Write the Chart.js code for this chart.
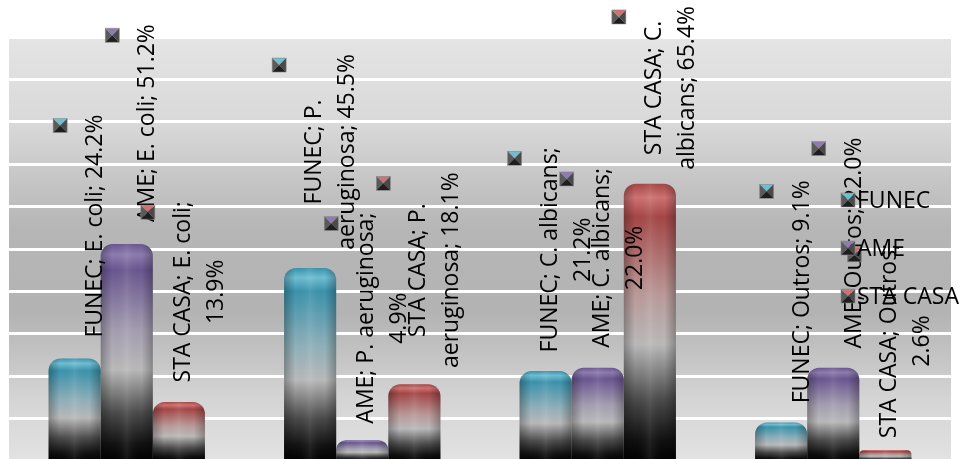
<!DOCTYPE html>
<html>
<head>
<meta charset="utf-8">
<script src="https://cdn.jsdelivr.net/npm/chart.js@4/dist/chart.umd.min.js"></script>
<style>
html, body { margin: 0; padding: 0; background: #fff; overflow: hidden; }
#wrap { width: 965px; height: 462px; }
</style>
</head>
<body>
<div id="wrap"><canvas id="myChart" width="965" height="462"></canvas></div>
<script>
// data
var categories = ['E. coli', 'P. aeruginosa', 'C. albicans', 'Outros'];
var seriesNames = ['FUNEC', 'AME', 'STA CASA'];
var funec = [24.2, 45.5, 21.2, 9.1];
var ame = [51.2, 4.9, 22.0, 22.0];
var staCasa = [13.9, 18.1, 65.4, 2.6];

// where each data label sits (value units on the y axis) and how many words on its first line
var labelMid = [[55.4, 72.9, 49.8, 39.9], [79.7, 33.7, 47.9, 51.4], [39.9, 45.0, 88.0, 28.3]];
var firstLineWords = [[0, 2, 3, 0], [0, 3, 3, 0], [4, 3, 3, 3]];

var palette = [
    { base: '#3b93ad', hi: '#6fbfd3', mid: '#8fb0ba' },
    { base: '#6a5690', hi: '#8e7cb0', mid: '#a59fb1' },
    { base: '#a54646', hi: '#cf7272', mid: '#bb9a9a' }
];
var FONT = '23px "Open Sans", sans-serif';

function barFill(i) {
    return function (c) {
        var chart = c.chart;
        var p = palette[i];
        if (!chart.chartArea || c.type !== 'data') return p.base;
        var ys = chart.scales.y;
        var top = ys.getPixelForValue(c.raw), bot = ys.getPixelForValue(0);
        var g = chart.ctx.createLinearGradient(0, top, 0, bot);
        g.addColorStop(0, p.base);
        g.addColorStop(0.05, p.hi);
        g.addColorStop(0.12, p.base);
        g.addColorStop(0.4, p.mid);
        g.addColorStop(0.58, '#bababa');
        g.addColorStop(0.78, '#4a4a4a');
        g.addColorStop(0.92, '#121212');
        g.addColorStop(1, '#000000');
        return g;
    };
}

function drawKey(ctx, x, y, color) {
    var s = 7;
    ctx.save();
    ctx.beginPath(); ctx.moveTo(x - s, y - s); ctx.lineTo(x + s, y - s); ctx.lineTo(x, y); ctx.closePath();
    ctx.fillStyle = color; ctx.fill();
    ctx.beginPath(); ctx.moveTo(x - s, y - s); ctx.lineTo(x, y); ctx.lineTo(x - s, y + s); ctx.closePath();
    ctx.fillStyle = '#5a5a5a'; ctx.fill();
    ctx.beginPath(); ctx.moveTo(x + s, y - s); ctx.lineTo(x, y); ctx.lineTo(x + s, y + s); ctx.closePath();
    ctx.fillStyle = '#4a4a4a'; ctx.fill();
    ctx.beginPath(); ctx.moveTo(x - s, y + s); ctx.lineTo(x, y); ctx.lineTo(x + s, y + s); ctx.closePath();
    ctx.fillStyle = '#1e1e1e'; ctx.fill();
    ctx.strokeStyle = '#8a8a8a'; ctx.lineWidth = 0.6;
    ctx.strokeRect(x - s, y - s, 2 * s, 2 * s);
    ctx.restore();
}

var plotBackground = {
    id: 'plotBackground',
    beforeDraw: function (chart) {
        var a = chart.chartArea, ctx = chart.ctx;
        var g = ctx.createLinearGradient(0, a.top, 0, a.bottom);
        g.addColorStop(0, '#e4e4e4');
        g.addColorStop(0.2, '#d9d9d9');
        g.addColorStop(0.45, '#b6b6b6');
        g.addColorStop(0.65, '#b3b3b3');
        g.addColorStop(0.85, '#d4d4d4');
        g.addColorStop(1, '#e2e2e2');
        ctx.save();
        ctx.fillStyle = g;
        ctx.fillRect(a.left, a.top, a.right - a.left, a.bottom - a.top);
        ctx.restore();
    }
};

var barLabels = {
    id: 'barLabels',
    afterDatasetsDraw: function (chart) {
        var ctx = chart.ctx, ys = chart.scales.y;
        // side shading on the bars
        chart.data.datasets.forEach(function (ds, i) {
            chart.getDatasetMeta(i).data.forEach(function (bar) {
                var w = bar.width, h = bar.base - bar.y, left = bar.x - w / 2;
                var r = Math.min(12, w / 2, h / 2);
                var g = ctx.createLinearGradient(left, 0, left + w, 0);
                g.addColorStop(0, 'rgba(0,0,0,0.28)');
                g.addColorStop(0.22, 'rgba(0,0,0,0)');
                g.addColorStop(0.5, 'rgba(255,255,255,0.08)');
                g.addColorStop(0.78, 'rgba(0,0,0,0)');
                g.addColorStop(1, 'rgba(0,0,0,0.28)');
                ctx.save();
                ctx.beginPath();
                ctx.roundRect(left, bar.y, w, h, [r, r, 0, 0]);
                ctx.fillStyle = g;
                ctx.fill();
                ctx.restore();
            });
        });
        // data labels
        ctx.save();
        ctx.font = FONT;
        ctx.fillStyle = '#000';
        ctx.textAlign = 'center';
        ctx.textBaseline = 'middle';
        chart.data.datasets.forEach(function (ds, i) {
            chart.getDatasetMeta(i).data.forEach(function (bar, j) {
                var text = seriesNames[i] + '; ' + categories[j] + '; ' + ds.data[j].toFixed(1) + '%';
                var words = text.split(' ');
                var n = firstLineWords[i][j];
                var lines = n ? [words.slice(0, n).join(' '), words.slice(n).join(' ')] : [text];
                var cx = bar.x + 21, cy = ys.getPixelForValue(labelMid[i][j]);
                var maxW = 0;
                ctx.save();
                ctx.translate(cx, cy);
                ctx.rotate(-Math.PI / 2);
                lines.forEach(function (ln, k) {
                    maxW = Math.max(maxW, ctx.measureText(ln).width);
                    ctx.fillText(ln, 0, (k - (lines.length - 1) / 2) * 33);
                });
                ctx.restore();
                drawKey(ctx, cx - 2 - lines.length * 16.5 - 17, cy - maxW / 2 + 11, palette[i].hi);
            });
        });
        // legend
        ctx.textAlign = 'left';
        seriesNames.forEach(function (name, i) {
            var y = 200 + i * 48;
            drawKey(ctx, 848, y, palette[i].hi);
            ctx.fillStyle = '#000';
            ctx.fillText(name, 857, y + 1);
        });
        ctx.restore();
    }
};

var ctx = document.getElementById('myChart').getContext('2d');
var chart = new Chart(ctx, {
    type: 'bar',
    data: {
        labels: categories,
        datasets: [
            { label: seriesNames[0], data: funec, backgroundColor: barFill(0) },
            { label: seriesNames[1], data: ame, backgroundColor: barFill(1) },
            { label: seriesNames[2], data: staCasa, backgroundColor: barFill(2) }
        ]
    },
    options: {
        responsive: false,
        animation: false,
        layout: { padding: { left: 9, right: 14, top: 37, bottom: 1 } },
        datasets: {
            bar: {
                categoryPercentage: 0.664,
                barPercentage: 1.0,
                borderRadius: { topLeft: 12, topRight: 12 },
                borderSkipped: 'bottom'
            }
        },
        scales: {
            x: { display: false },
            y: {
                min: 0,
                max: 100,
                ticks: { display: false, stepSize: 10 },
                border: { display: false },
                grid: { color: '#ffffff', lineWidth: 3, drawTicks: false }
            }
        },
        plugins: {
            legend: { display: false },
            tooltip: { enabled: false }
        }
    },
    plugins: [plotBackground, barLabels]
});
</script>
</body>
</html>
